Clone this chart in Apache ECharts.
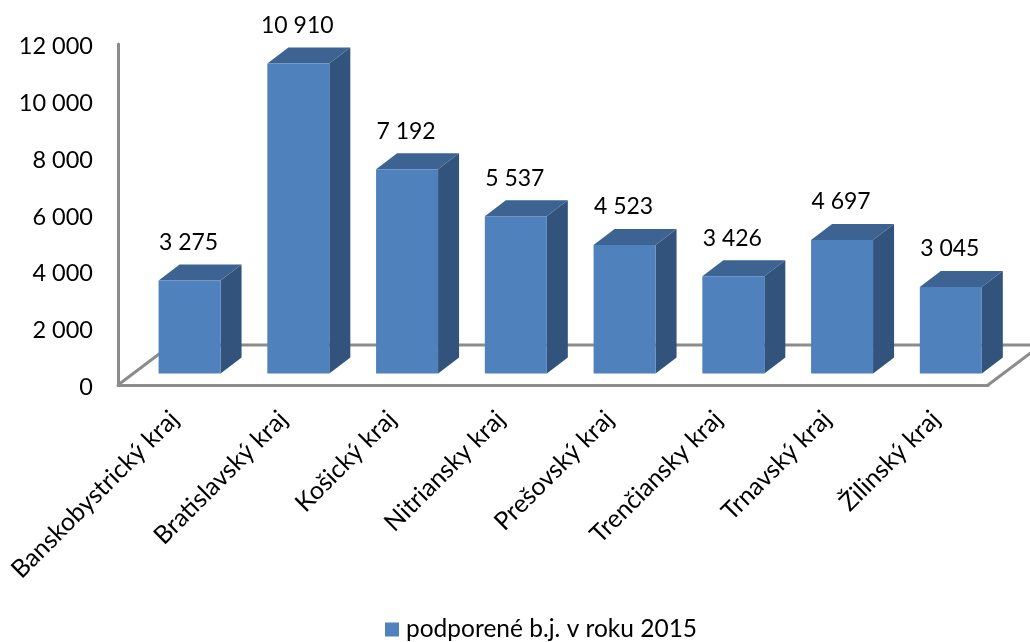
<!DOCTYPE html>
<html><head><meta charset="utf-8">
<style>html,body{margin:0;padding:0;background:#fff}#c{width:1030px;height:642px}</style>
<script src="https://cdn.jsdelivr.net/npm/echarts@6/dist/echarts.min.js"></script>
</head><body><div id="c"></div>
<script>
const categories = ['Banskobystrický kraj','Bratislavský kraj','Košický kraj','Nitriansky kraj','Prešovský kraj','Trenčiansky kraj','Trnavský kraj','Žilinský kraj'];
const values = [3275,10910,7192,5537,4523,3426,4697,3045];
const seriesName = 'podporené b.j. v roku 2015';
const font = 'Lato';
const fmt = v => String(v).replace(/\B(?=(\d{3})+$)/g,' ');
const chart = echarts.init(document.getElementById('c'),null,{renderer:'canvas'});
const FX=17.2,FY=-11.5,DX=21,DY=-16,WX=53,WY=-40;
chart.setOption({
  animation:false,
  backgroundColor:'#fff',
  textStyle:{fontFamily:font},
  grid:{left:118,right:42,top:44,bottom:257,containLabel:false},
  legend:{data:[{name:seriesName,itemStyle:{color:'#4f81bd'}}],left:380,top:612,itemWidth:14,itemHeight:14,itemGap:9,icon:'rect',
    textStyle:{fontFamily:font,fontSize:24.5,color:'#000',padding:[0,0,0,2]}},
  xAxis:{type:'category',data:categories,axisTick:{show:false},
    axisLine:{lineStyle:{color:'#8c8c8c',width:3}},
    axisLabel:{rotate:45,interval:0,fontFamily:font,fontSize:25,color:'#000',margin:28,verticalAlign:'top',lineHeight:6}},
  yAxis:{type:'value',min:0,max:12000,interval:2000,splitLine:{show:false},axisTick:{show:false},
    axisLine:{show:true,lineStyle:{color:'#8c8c8c',width:3}},
    axisLabel:{fontFamily:font,fontSize:23.5,color:'#000',margin:25,verticalAlign:'top',lineHeight:5,formatter:v=>fmt(v)}},
  series:[
    {type:'custom',name:'floor',silent:true,z:1,data:[0],clip:false,
     renderItem:(p,api)=>{
       const s=p.coordSys.x,e=s+p.coordSys.width;
       const y=api.coord([0,0])[1];
       const ls={stroke:'#8c8c8c',lineWidth:3,fill:null};
       return {type:'polyline',shape:{points:[[s,y],[s+WX,y+WY],[e+WX,y+WY],[e,y]]},style:ls};
     }},
    {type:'custom',name:seriesName,z:3,clip:false,
     itemStyle:{color:'#4f81bd'},
     encode:{x:0,y:1},
     data:values.map((v,i)=>[i,v]),
     renderItem:(p,api)=>{
       const i=api.value(0),v=api.value(1);
       const c=api.coord([i,v]),b=api.coord([i,0]);
       const w=api.size([1,0])[0]*0.57;
       const x0=c[0]+FX-w/2,x1=x0+w,yt=c[1]+FY,yb=b[1]+FY;
       return {type:'group',children:[
         {type:'polygon',shape:{points:[[x1,yt],[x1+DX,yt+DY],[x1+DX,yb+DY],[x1,yb]]},style:{fill:'#31537c'}},
         {type:'polygon',shape:{points:[[x0,yt],[x0+DX,yt+DY],[x1+DX,yt+DY],[x1,yt]]},style:{fill:'#3d6392'}},
         {type:'rect',shape:{x:x0,y:yt,width:w,height:yb-yt},style:{fill:'#4f81bd'}},
         {type:'text',style:{text:fmt(v),x:(x0+x1)/2-1,y:yt+DY-22,align:'center',verticalAlign:'middle',fontFamily:font,fontSize:23,fill:'#000'}}
       ]};
     }}
  ]
});
</script></body></html>
